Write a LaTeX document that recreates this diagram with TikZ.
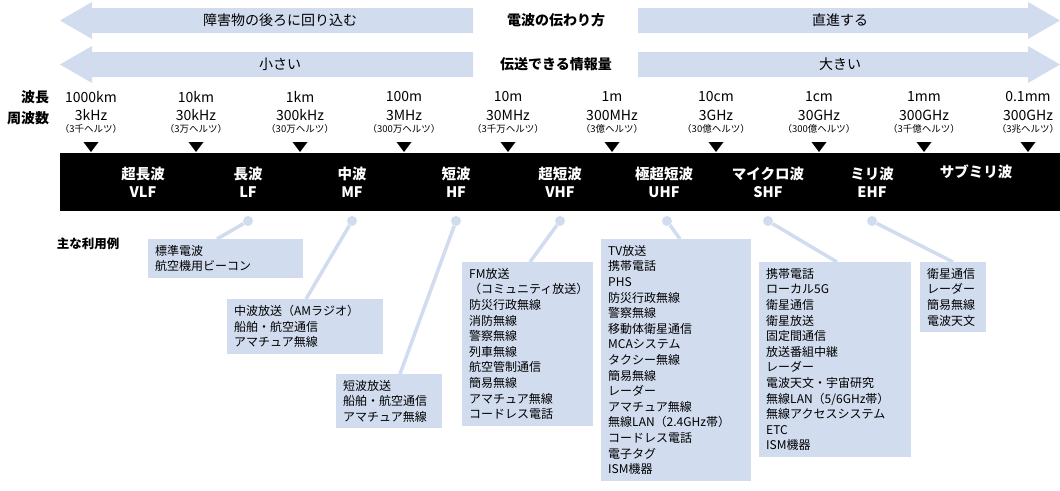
\documentclass[tikz,border=0pt]{standalone}
\usepackage{fontspec}
\setmainfont{Noto Sans CJK JP}
\usetikzlibrary{positioning}
\definecolor{lblue}{HTML}{D1DCEF}
\tikzset{
  % light blue direction arrows
  band arrow/.style = {fill = lblue},
  arrow text/.style = {font = \fontsize{14}{14}\selectfont},
  head text/.style = {font = \fontsize{14}{14}\selectfont\bfseries},
  % wavelength and frequency scale
  wave/.style = {font = \fontsize{14}{14}\selectfont},
  note/.style = {font = \fontsize{9.5}{10}\selectfont},
  tick/.style = {fill = black},
  % spectrum band
  band name/.style = {font = \fontsize{14.5}{18}\selectfont\bfseries, text = white, align = center},
  % usage boxes
  use box/.style = {
    fill = lblue, anchor = north west, align = left,
    inner xsep = 7pt, inner ysep = 6pt,
    font = \fontsize{12}{15.6}\selectfont
  },
  use dot/.style = {circle, fill = lblue, minimum size = 10pt, inner sep = 0},
  leader/.style = {draw = lblue, line width = 3.5pt}
}
\begin{document}
\begin{tikzpicture}[x=1pt, y=-1pt]
  \useasboundingbox (0,0) rectangle (1060,490);

  % arrows
  \fill[band arrow] (60,20.5) -- (92,2) -- (92,8) -- (473,8) -- (473,33) -- (92,33) -- (92,39) -- cycle;
  \fill[band arrow] (1060,20.5) -- (1028,2) -- (1028,8) -- (638,8) -- (638,33) -- (1028,33) -- (1028,39) -- cycle;
  \fill[band arrow] (60,64.5) -- (92,46) -- (92,52) -- (473,52) -- (473,77) -- (92,77) -- (92,83) -- cycle;
  \fill[band arrow] (1060,64.5) -- (1028,46) -- (1028,52) -- (638,52) -- (638,77) -- (1028,77) -- (1028,83) -- cycle;
  \node[arrow text] (obst) at (280,20.5) {障害物の後ろに回り込む};
  \node[arrow text] (straight) at (840,20.5) {直進する};
  \node[arrow text] (small) at (280,64.5) {小さい};
  \node[arrow text] (large) at (840,64.5) {大きい};
  \node[head text] (prop) at (556,20.5) {電波の伝わり方};
  \node[head text] (info) at (556,64.5) {伝送できる情報量};

  % scale
  \node[head text] (wl) at (35,97) {波長};
  \node[head text] (fq) at (28,118) {周波数};
  \foreach \x/\w/\f/\n [count=\i] in {
      91/1000km/3kHz/（3千ヘルツ）, 196/10km/30kHz/（3万ヘルツ）,
      300/1km/300kHz/（30万ヘルツ）, 404/100m/3MHz/（300万ヘルツ）,
      508/10m/30MHz/（3千万ヘルツ）, 612/1m/300MHz/（3億ヘルツ）,
      716/10cm/3GHz/（30億ヘルツ）, 819/1cm/30GHz/（300億ヘルツ）,
      924/1mm/300GHz/（3千億ヘルツ）, 1028/0.1mm/300GHz/（3兆ヘルツ）} {
    \node[wave] (w\i) at (\x,97) {\w};
    \node[wave] (f\i) at (\x,115) {\f};
    \node[note] (n\i) at (\x,129) {\n};
    \fill[tick] (\x-7.5,142) -- (\x+7.5,142) -- (\x,152) -- cycle;
  }

  % spectrum band
  \fill (60,153) rectangle (1060,211);
  \foreach \x/\a/\b [count=\i] in {
      143/超長波/VLF, 248/長波/LF, 352/中波/MF, 456/短波/HF,
      560/超短波/VHF, 664/極超短波/UHF, 768/マイクロ波/SHF, 872/ミリ波/EHF} {
    \node[band name] (b\i) at (\x,182) {\a\\\b};
  }
  \node[band name] (b9) at (976,172) {サブミリ波};

  % usage
  \node[head text, font=\fontsize{12.5}{14}\selectfont\bfseries] (uses) at (88,244) {主な利用例};
  \node[use box, text width=141pt] (u1) at (148,239) {標準電波\\航空機用ビーコン};
  \node[use box, text width=142pt] (u2) at (227,299) {中波放送（AMラジオ）\\船舶・航空通信\\アマチュア無線};
  \node[use box, text width=92pt] (u3) at (336,374) {短波放送\\船舶・航空通信\\アマチュア無線};
  \node[use box, text width=117pt] (u4) at (462,262) {FM放送\\（コミュニティ放送）\\防災行政無線\\消防無線\\警察無線\\列車無線\\航空管制通信\\簡易無線\\アマチュア無線\\コードレス電話};
  \node[use box, text width=136pt] (u5) at (601,239) {TV放送\\携帯電話\\PHS\\防災行政無線\\警察無線\\移動体衛星通信\\MCAシステム\\タクシー無線\\簡易無線\\レーダー\\アマチュア無線\\無線LAN（2.4GHz帯）\\コードレス電話\\電子タグ\\ISM機器};
  \node[use box, text width=138pt] (u6) at (759,262) {携帯電話\\ローカル5G\\衛星通信\\衛星放送\\固定間通信\\放送番組中継\\レーダー\\電波天文・宇宙研究\\無線LAN（5/6GHz帯）\\無線アクセスシステム\\ETC\\ISM機器};
  \node[use box, text width=52pt] (u7) at (920,262) {衛星通信\\レーダー\\簡易無線\\電波天文};

  \foreach \x/\e [count=\i] in {248/69, 352/79, 456/64, 560/68, 667/79, 768/78, 872/33} {
    \node[use dot] (d\i) at (\x,221) {};
  }
  \draw[leader] (d1) -- ([xshift=69pt]u1.north west);
  \draw[leader] (d2) -- ([xshift=79pt]u2.north west);
  \draw[leader] (d3) -- ([xshift=64pt]u3.north west);
  \draw[leader] (d4) -- ([xshift=68pt]u4.north west);
  \draw[leader] (d5) -- ([xshift=79pt]u5.north west);
  \draw[leader] (d6) -- ([xshift=78pt]u6.north west);
  \draw[leader] (d7) -- ([xshift=33pt]u7.north west);
\end{tikzpicture}
\end{document}
